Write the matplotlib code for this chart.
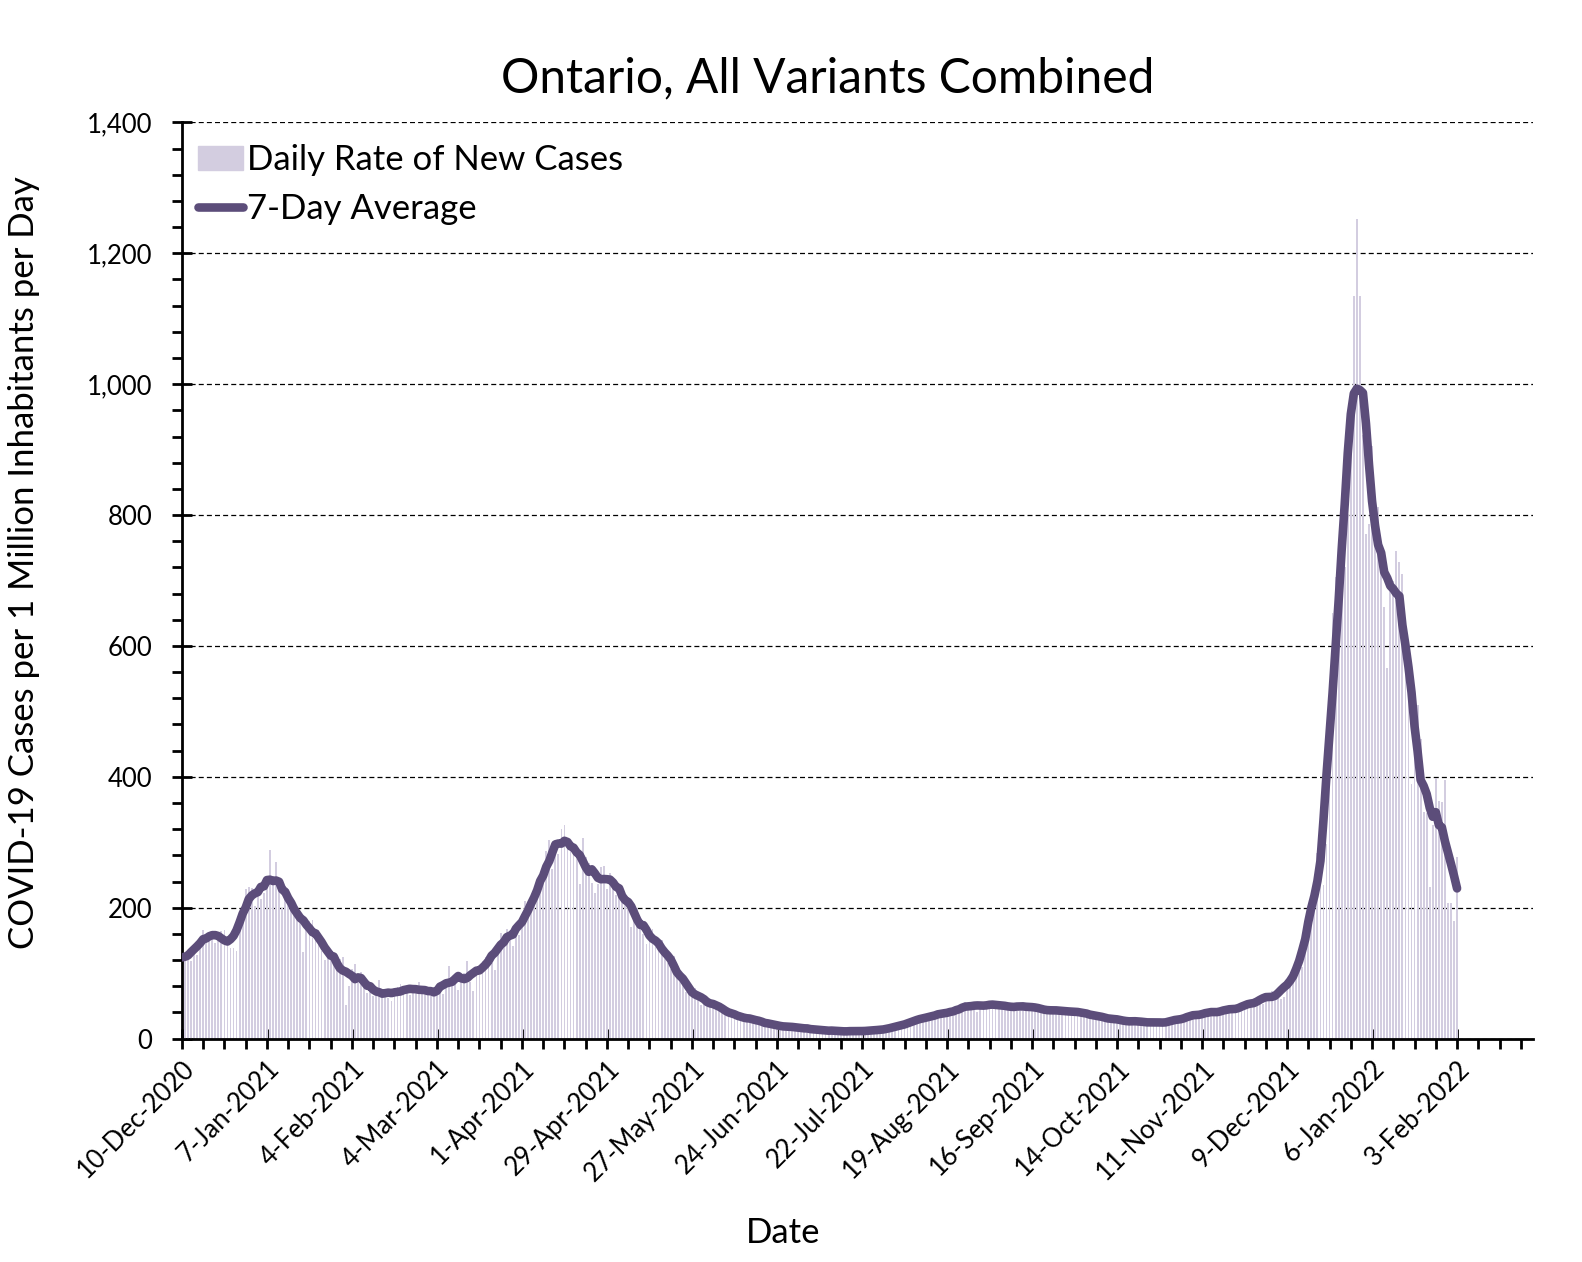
import numpy as np
import pandas as pd
import matplotlib
matplotlib.use("Agg")
import matplotlib.pyplot as plt
from matplotlib.ticker import MultipleLocator, FuncFormatter
from matplotlib.patches import Patch
from matplotlib.lines import Line2D

plt.rcParams['font.family'] = ['Lato', 'DejaVu Sans']

start_date = pd.Timestamp("2020-12-10")

# daily new cases per 1 million inhabitants, 10-Dec-2020 .. 3-Feb-2022
daily_rate = [
    135, 126, 128, 118, 138, 128, 152,
    166, 158, 162, 160, 146, 151, 164,
    166, 148, 138, 138, 134, 175, 200,
    228, 232, 230, 203, 224, 214, 223,
    241, 288, 236, 270, 228, 200, 228,
    228, 206, 210, 203, 176, 132, 182,
    180, 182, 162, 166, 134, 120, 135,
    133, 126, 118, 122, 124, 51, 80,
    107, 114, 95, 102, 87, 70, 73,
    65, 74, 89, 66, 67, 62, 58,
    71, 79, 84, 74, 72, 67, 72,
    78, 86, 81, 73, 66, 65, 70,
    68, 85, 68, 89, 111, 81, 90,
    75, 94, 100, 119, 86, 73, 102,
    105, 118, 124, 122, 115, 105, 142,
    162, 147, 167, 166, 142, 159, 158,
    174, 210, 204, 200, 206, 220, 230,
    240, 287, 303, 259, 299, 282, 321,
    327, 296, 302, 289, 286, 236, 306,
    278, 268, 238, 222, 236, 263, 264,
    229, 253, 240, 220, 232, 232, 218,
    213, 170, 196, 200, 185, 160, 145,
    160, 168, 145, 140, 150, 140, 115,
    107, 127, 110, 98, 84, 71, 76,
    75, 78, 60, 52, 61, 56, 60,
    54, 48, 46, 45, 46, 42, 40,
    32, 30, 36, 34, 31, 32, 30,
    25, 27, 27, 26, 24, 22, 17,
    20, 20, 20, 19, 18, 17, 15,
    19, 17, 16, 16, 14, 13, 14,
    12, 14, 14, 13, 11, 10, 11,
    13, 12, 12, 11, 9, 10, 13,
    13, 13, 12, 11, 10, 13, 15,
    15, 16, 15, 14, 16, 20, 23,
    24, 23, 22, 24, 28, 33, 35,
    34, 33, 29, 32, 36, 42, 42,
    46, 39, 34, 37, 45, 48, 56,
    55, 56, 45, 40, 48, 53, 58,
    54, 55, 48, 46, 50, 50, 54,
    53, 50, 42, 42, 48, 54, 55,
    54, 46, 40, 40, 44, 48, 47,
    45, 41, 38, 40, 43, 45, 44,
    41, 40, 36, 38, 41, 39, 38,
    36, 29, 30, 32, 35, 33, 30,
    27, 25, 27, 29, 28, 27, 25,
    24, 26, 27, 27, 25, 23, 22,
    24, 26, 27, 26, 24, 25, 30,
    32, 35, 32, 30, 33, 38, 40,
    42, 38, 34, 37, 43, 44, 46,
    42, 38, 41, 47, 49, 51, 48,
    44, 47, 56, 60, 62, 58, 53,
    59, 66, 73, 73, 63, 60, 63,
    88, 99, 104, 100, 104, 110, 140,
    175, 212, 224, 284, 257, 234, 298,
    393, 650, 706, 720, 700, 720, 800,
    937, 1135, 1252, 1135, 922, 771, 786,
    906, 808, 812, 744, 659, 567, 700,
    700, 745, 728, 710, 611, 540, 389,
    486, 510, 458, 346, 345, 232, 326,
    399, 363, 362, 395, 208, 207, 179,
    278,
]
# days just outside the plotted range, used only by the centred average
lead_in = [131, 114, 117]
lead_out = [240, 235, 260]

bar_color = '#d3cde0'
line_color = '#5c4d7a'

days = np.arange(len(daily_rate))
full = pd.Series(lead_in + daily_rate + lead_out, dtype=float)
avg7 = full.rolling(7, center=True).mean().iloc[len(lead_in):len(lead_in) + len(daily_rate)].values

fig = plt.figure(figsize=(15.82, 12.62), dpi=100)
ax = fig.add_axes([0.115, 0.177, 0.854, 0.726])

ax.bar(days, daily_rate, width=0.6, color=bar_color, zorder=2)
ax.plot(days, avg7, color=line_color, lw=6.2, solid_capstyle='round',
        solid_joinstyle='round', zorder=3)

ax.set_xlim(0, 445)
ax.set_ylim(0, 1400)

# x ticks: every 28 days labelled, minor every week
major_days = np.arange(0, 421, 28)
ax.set_xticks(major_days)
labels = []
for d in major_days:
    dt = start_date + pd.Timedelta(days=int(d))
    labels.append(f"{dt.day}-{dt.strftime('%b-%Y')}")
ax.set_xticklabels(labels, rotation=45, ha='right', rotation_mode='anchor')
ax.xaxis.set_minor_locator(MultipleLocator(7))

ax.yaxis.set_major_locator(MultipleLocator(200))
ax.yaxis.set_minor_locator(MultipleLocator(40))
ax.yaxis.set_major_formatter(FuncFormatter(lambda v, p: f"{v:,.0f}"))

ax.tick_params(axis='both', which='major', direction='inout', length=15,
               width=2, labelsize=18.5, color='black')
ax.tick_params(axis='both', which='minor', direction='out', length=7,
               width=2, color='black')
ax.tick_params(axis='x', which='major', pad=5)
ax.tick_params(axis='y', which='major', pad=14)

for s in ['top', 'right']:
    ax.spines[s].set_visible(False)
for s in ['left', 'bottom']:
    ax.spines[s].set_linewidth(2)

ax.yaxis.grid(True, which='major', color='black', linestyle=(0, (4, 2.5)), lw=0.9)
ax.set_axisbelow(True)

fig.text(0.523, 0.938, "Ontario, All Variants Combined", fontsize=34.5,
         ha='center', va='center')
ax.set_xlabel("Date", fontsize=25)
ax.xaxis.set_label_coords(0.445, -0.195)
ax.set_ylabel("COVID-19 Cases per 1 Million Inhabitants per Day", fontsize=25)
ax.yaxis.set_label_coords(-0.105, 0.52)

handles = [Patch(color=bar_color, label='Daily Rate of New Cases'),
           Line2D([0], [0], color=line_color, lw=6.2, solid_capstyle='round',
                  label='7-Day Average')]
ax.legend(handles=handles, loc='upper left', frameon=False, fontsize=25,
          handlelength=1.3, handletextpad=0.12, borderaxespad=0.3,
          labelspacing=0.5, bbox_to_anchor=(-0.006, 1.003))

fig.savefig("out.png", dpi=100)
